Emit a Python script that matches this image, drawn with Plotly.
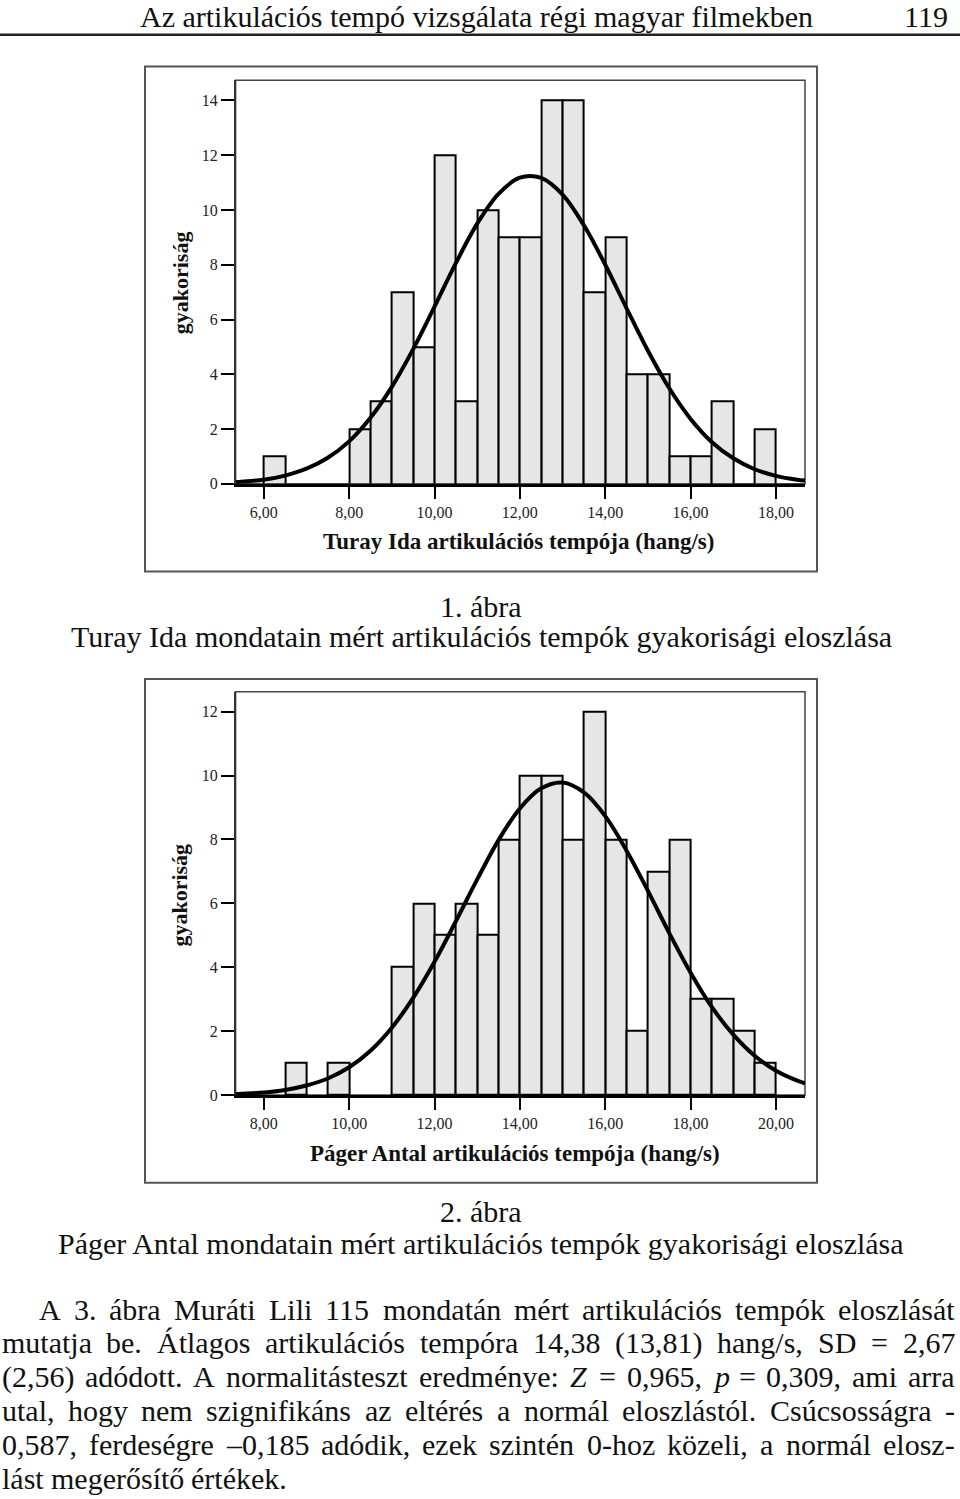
import plotly.graph_objects as go

W_PX, H_PX = 960, 1499
SERIF = "Liberation Serif"

# ---------------- data ----------------
top_bin_left = [6.0, 8.0, 8.5, 9.0, 9.5, 10.0, 10.5, 11.0, 11.5, 12.0,
                12.5, 13.0, 13.5, 14.0, 14.5, 15.0, 15.5, 16.0, 16.5, 17.5]
top_counts = [1, 2, 3, 7, 5, 12, 3, 10, 9, 9, 14, 14, 7, 9, 4, 4, 1, 1, 3, 2]
top_curve_x = [5.34, 6.0, 6.5, 7.0, 7.5, 8.0, 8.5, 9.0, 9.5, 10.0, 10.5, 11.0, 11.5,
               12.0, 12.5, 13.0, 13.5, 14.0, 14.5, 15.0, 15.5, 16.0, 16.5, 17.0,
               17.5, 18.0, 18.5, 18.68]
top_curve_y = [0.06, 0.15, 0.30, 0.55, 0.95, 1.55, 2.41, 3.54, 4.92, 6.47, 8.06, 9.50,
               10.59, 11.18, 11.17, 10.56, 9.44, 8.00, 6.41, 4.86, 3.49, 2.37, 1.52,
               0.93, 0.53, 0.29, 0.15, 0.12]
top_xticks = [6, 8, 10, 12, 14, 16, 18]
top_xlabels = ["6,00", "8,00", "10,00", "12,00", "14,00", "16,00", "18,00"]
top_yticks = [0, 2, 4, 6, 8, 10, 12, 14]

bot_bin_left = [8.5, 9.5, 11.0, 11.5, 12.0, 12.5, 13.0, 13.5, 14.0, 14.5,
                15.0, 15.5, 16.0, 16.5, 17.0, 17.5, 18.0, 18.5, 19.0, 19.5]
bot_counts = [1, 1, 4, 6, 5, 6, 5, 8, 10, 10, 8, 12, 8, 2, 7, 8, 3, 3, 2, 1]
bot_curve_x = [7.34, 8.0, 8.5, 9.0, 9.5, 10.0, 10.5, 11.0, 11.5, 12.0, 12.5, 13.0,
               13.5, 14.0, 14.5, 15.0, 15.5, 16.0, 16.5, 17.0, 17.5, 18.0, 18.5,
               19.0, 19.5, 20.0, 20.5, 20.68]
bot_curve_y = [0.03, 0.08, 0.16, 0.30, 0.52, 0.87, 1.39, 2.11, 3.04, 4.17, 5.44, 6.75,
               7.98, 8.97, 9.60, 9.78, 9.47, 8.73, 7.65, 6.39, 5.07, 3.83, 2.75,
               1.89, 1.23, 0.76, 0.45, 0.37]
bot_xticks = [8, 10, 12, 14, 16, 18, 20]
bot_xlabels = ["8,00", "10,00", "12,00", "14,00", "16,00", "18,00", "20,00"]
bot_yticks = [0, 2, 4, 6, 8, 10, 12]

header_text = "Az artikulációs tempó vizsgálata régi magyar filmekben"
page_number = "119"
fig1_label = "1. ábra"
fig1_caption = "Turay Ida mondatain mért artikulációs tempók gyakorisági eloszlása"
fig2_label = "2. ábra"
fig2_caption = "Páger Antal mondatain mért artikulációs tempók gyakorisági eloszlása"
top_xtitle = "Turay Ida artikulációs tempója (hang/s)"
bot_xtitle = "Páger Antal artikulációs tempója (hang/s)"
ytitle = "gyakoriság"
paragraph_lines = [
    "A 3. ábra Muráti Lili 115 mondatán mért artikulációs tempók eloszlását",
    "mutatja be. Átlagos artikulációs tempóra 14,38 (13,81) hang/s, SD = 2,67",
    "(2,56) adódott. A normalitásteszt eredménye: <i>Z</i> = 0,965, <i>p</i> = 0,309, ami arra",
    "utal, hogy nem szignifikáns az eltérés a normál eloszlástól. Csúcsosságra -",
    "0,587, ferdeségre –0,185 adódik, ezek szintén 0-hoz közeli, a normál elosz-",
    "lást megerősítő értékek.",
]


def X(px):
    return px / W_PX


def Y(py):
    return 1 - py / H_PX


# Times-Roman advance widths (per 1000 em) for justification
TW = {' ': 250, '!': 333, '(': 333, ')': 333, ',': 250, '-': 333, '.': 250, '/': 278,
      ':': 278, ';': 278, '=': 564, '–': 500,
      'A': 722, 'B': 667, 'C': 667, 'D': 722, 'E': 611, 'F': 556, 'G': 722, 'H': 722,
      'I': 333, 'J': 389, 'K': 722, 'L': 611, 'M': 889, 'N': 722, 'O': 722, 'P': 556,
      'Q': 722, 'R': 667, 'S': 556, 'T': 611, 'U': 722, 'V': 722, 'W': 944, 'X': 722,
      'Y': 722, 'Z': 611,
      'a': 444, 'b': 500, 'c': 444, 'd': 500, 'e': 444, 'f': 333, 'g': 500, 'h': 500,
      'i': 278, 'j': 278, 'k': 500, 'l': 278, 'm': 778, 'n': 500, 'o': 500, 'p': 500,
      'q': 500, 'r': 333, 's': 389, 't': 278, 'u': 500, 'v': 500, 'w': 722, 'x': 500,
      'y': 500, 'z': 444}
for acc, base in zip("áéíóöőúüűÁÉÍÓÖŐÚÜŰ", "aeiooouuuAEIOOOUUU"):
    TW[acc] = TW[base]


def strip_tags(s):
    return s.replace("<i>", "").replace("</i>", "")


def text_w(s, size):
    return sum(TW.get(c, 500) for c in strip_tags(s)) * size / 1000.0


fig = go.Figure()

bar_style = dict(color="#e6e6e6", line=dict(color="black", width=2))
fig.add_trace(go.Bar(x=top_bin_left, y=top_counts, width=0.5, offset=0,
                     marker=bar_style, xaxis="x", yaxis="y", showlegend=False))
fig.add_trace(go.Scatter(x=top_curve_x, y=top_curve_y, mode="lines",
                         line=dict(color="black", width=4, shape="spline"),
                         xaxis="x", yaxis="y", showlegend=False))
fig.add_trace(go.Bar(x=bot_bin_left, y=bot_counts, width=0.5, offset=0,
                     marker=bar_style, xaxis="x2", yaxis="y2", showlegend=False))
fig.add_trace(go.Scatter(x=bot_curve_x, y=bot_curve_y, mode="lines",
                         line=dict(color="black", width=4, shape="spline"),
                         xaxis="x2", yaxis="y2", showlegend=False))

xdom = [X(235.6), X(805)]
tickfont = dict(family=SERIF, size=16, color="#222")


def xaxis_cfg(rng, tv, tt, anchor):
    return dict(domain=xdom, range=rng, tickvals=tv, ticktext=tt, ticks="outside",
                ticklen=12, tickwidth=2, tickcolor="black", showline=True,
                linewidth=2.5, linecolor="black", showgrid=False, zeroline=False,
                tickfont=tickfont, anchor=anchor)


def yaxis_cfg(dom, rng, tv, anchor):
    return dict(domain=dom, range=rng, tickvals=tv, ticks="outside", ticklen=13,
                tickwidth=2, tickcolor="black", showline=True, linewidth=1.5,
                linecolor="#333", showgrid=False, zeroline=False,
                tickfont=tickfont, anchor=anchor)


fig.update_layout(
    width=W_PX, height=H_PX, margin=dict(l=0, r=0, t=0, b=0),
    paper_bgcolor="white", plot_bgcolor="white", bargap=0,
    xaxis=xaxis_cfg([5.34, 18.68], top_xticks, top_xlabels, "y"),
    yaxis=yaxis_cfg([Y(486.7), Y(80.7)], [0, 14.74], top_yticks, "x"),
    xaxis2=xaxis_cfg([7.34, 20.68], bot_xticks, bot_xlabels, "y2"),
    yaxis2=yaxis_cfg([Y(1101.7), Y(696)], [0, 12.62], bot_yticks, "x2"),
)

shapes = [
    # header rule
    dict(type="line", xref="paper", yref="paper", x0=0, x1=1, y0=Y(35), y1=Y(35),
         line=dict(color="#222", width=2.5)),
    # outer frames
    dict(type="rect", xref="paper", yref="paper", x0=X(145), x1=X(817), y0=Y(575), y1=Y(67),
         line=dict(color="#555", width=2)),
    dict(type="rect", xref="paper", yref="paper", x0=X(145), x1=X(817), y0=Y(1190), y1=Y(683),
         line=dict(color="#555", width=2)),
    # inner plot boxes
    dict(type="rect", xref="x domain", yref="y domain", x0=0, x1=1, y0=0, y1=1,
         line=dict(color="#444", width=1.5), layer="below"),
    dict(type="rect", xref="x2 domain", yref="y2 domain", x0=0, x1=1, y0=0, y1=1,
         line=dict(color="#444", width=1.5), layer="below"),
]
fig.update_layout(shapes=shapes)

ann = []


def add_text(text, px, py, size, xanchor="center", bold=False, angle=0, color="#111"):
    ann.append(dict(text=("<b>%s</b>" % text) if bold else text, x=X(px), y=Y(py),
                    xref="paper", yref="paper", xanchor=xanchor, yanchor="middle",
                    showarrow=False, textangle=angle, borderpad=0, borderwidth=0,
                    font=dict(family=SERIF, size=size, color=color)))


# header
add_text(header_text, 140, 17, 30, xanchor="left")
add_text(page_number, 948, 17, 30, xanchor="right")
# chart titles
add_text(top_xtitle, 518, 545, 23, bold=True)
add_text(bot_xtitle, 515, 1160, 23, bold=True)
add_text(ytitle, 180, 285, 22, bold=True, angle=-90)
add_text(ytitle, 180, 901, 22, bold=True, angle=-90)
# captions
add_text(fig1_label, 481, 610, 30)
add_text(fig1_caption, 481, 640, 30)
add_text(fig2_label, 481, 1219, 30)
add_text(fig2_caption, 481, 1251, 30)

# justified paragraph
P_SIZE = 30
LEFT, RIGHT, INDENT = 1.5, 955, 39
line_centers = [1317, 1351, 1385, 1419, 1453, 1487]
for i, line in enumerate(paragraph_lines):
    words = line.split(" ")
    left = INDENT if i == 0 else LEFT
    widths = [text_w(w, P_SIZE) for w in words]
    if i == len(paragraph_lines) - 1:
        gap = TW[" "] * P_SIZE / 1000.0
    else:
        gap = (RIGHT - left - sum(widths)) / (len(words) - 1)
    xpos = left
    for w, wd in zip(words, widths):
        add_text(w, xpos, line_centers[i], P_SIZE, xanchor="left")
        xpos += wd + gap

fig.update_layout(annotations=ann)
fig.write_html(
    "out.html",
    config={"displayModeBar": False},
    post_script="document.body.style.margin='0px';document.body.style.overflow='hidden';",
)
